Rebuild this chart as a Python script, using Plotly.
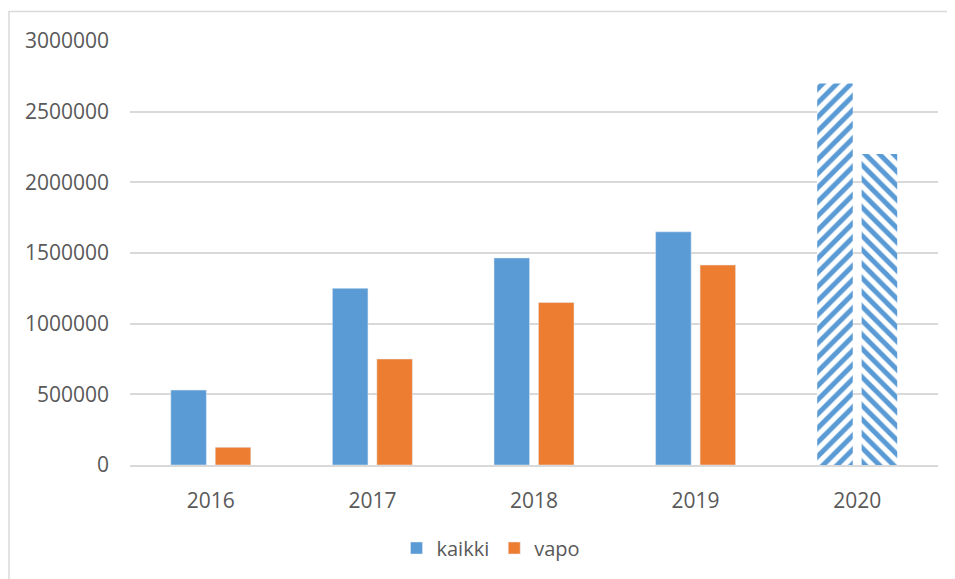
import plotly.graph_objects as go

years = ["2016", "2017", "2018", "2019", "2020"]
kaikki = [530000, 1250000, 1465000, 1650000, 2700000]
vapo = [125000, 750000, 1150000, 1415000, 2200000]
y_ticks = [0, 500000, 1000000, 1500000, 2000000, 2500000, 3000000]

BLUE = "#5B9BD5"
ORANGE = "#ED7D31"
TXT = "#595959"
FONT = "Open Sans"

OFF = 8  # page body margin
W, H = 955 - OFF, 579 - OFF
L, T = 130 - OFF, 41 - OFF
R = W - (938 - OFF)
B = H - (465 - OFF)
pw, ph = W - L - R, H - T - B


def px_x(p):
    return (p - OFF - L) / pw


def px_y(p):
    return (H - B - (p - OFF)) / ph


def hatch(shape):
    return dict(color="white", line=dict(width=0),
                pattern=dict(shape=shape, fgcolor=BLUE, bgcolor="white", fgopacity=1,
                             size=10, solidity=0.5, fillmode="overlay"))


fig = go.Figure()
fig.add_trace(go.Bar(x=years[:4], y=kaikki[:4], name="kaikki", marker_color=BLUE,
                     offsetgroup="a", legendgroup="a"))
fig.add_trace(go.Bar(x=years[:4], y=vapo[:4], name="vapo", marker_color=ORANGE,
                     offsetgroup="b", legendgroup="b"))
fig.add_trace(go.Bar(x=years[4:], y=kaikki[4:], name="kaikki", showlegend=False,
                     offsetgroup="a", legendgroup="a", marker=hatch("/")))
fig.add_trace(go.Bar(x=years[4:], y=vapo[4:], name="vapo", showlegend=False,
                     offsetgroup="b", legendgroup="b", marker=hatch("\\")))

fig.update_layout(
    width=W, height=H,
    margin=dict(l=L, r=R, t=T, b=B),
    paper_bgcolor="white", plot_bgcolor="white",
    barmode="group", bargap=0.45, bargroupgap=0.2,
    font=dict(family=FONT, size=21, color=TXT),
    showlegend=True,
    legend=dict(orientation="h", x=px_x(491), xanchor="center", y=px_y(548), yanchor="middle",
                font=dict(family=FONT, size=20, color=TXT), itemwidth=30,
                traceorder="normal"),
    xaxis=dict(type="category", showgrid=False, showline=True, linecolor="#D9D9D9",
               linewidth=2, ticks="", ticklabelstandoff=16, zeroline=False),
    yaxis=dict(range=[0, 3000000], tickvals=y_ticks, ticktext=[str(v) for v in y_ticks],
               showgrid=True, gridcolor="#D9D9D9", gridwidth=1.5, zeroline=False,
               showline=False, ticks="", ticklabelstandoff=20),
    shapes=[dict(type="rect", xref="paper", yref="paper",
                 x0=px_x(OFF + 1), x1=px_x(990), y0=px_y(11.5), y1=px_y(620),
                 line=dict(color="#D9D9D9", width=1.5), fillcolor="rgba(0,0,0,0)", layer="below")],
)

fig.write_html("out.html")
